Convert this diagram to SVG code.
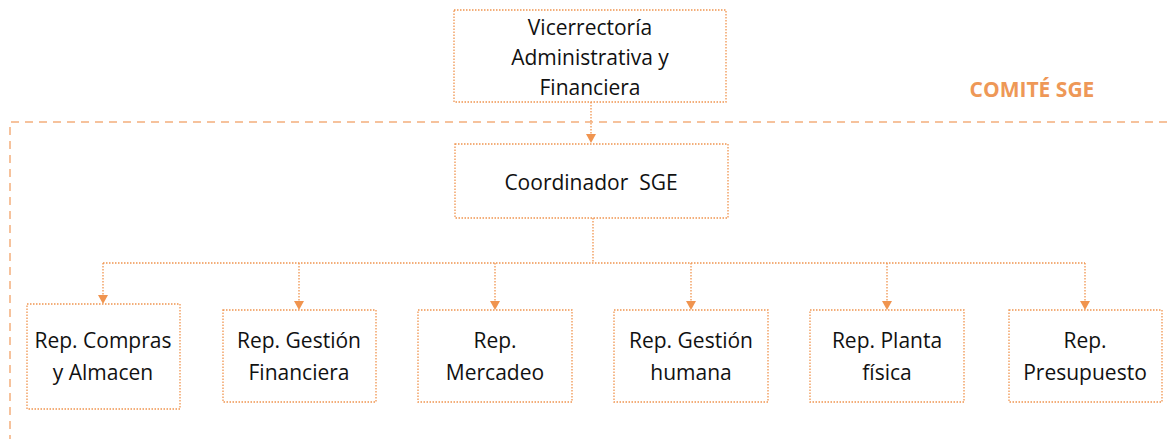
<svg xmlns="http://www.w3.org/2000/svg" width="1167" height="439" viewBox="0 0 1167 439">
<style>
.box{fill:#fff;stroke:#F0944F;stroke-width:1.3;stroke-dasharray:1.5 1.5}
.con{fill:none;stroke:#F0944F;stroke-width:1.3;stroke-dasharray:1.5 1.5}
.t{font-family:"Open Sans","Liberation Sans",sans-serif;font-size:21px;fill:#111;text-anchor:middle;dominant-baseline:central}
.com{font-family:"Open Sans","Liberation Sans",sans-serif;font-size:21px;font-weight:bold;fill:#EE9857;text-anchor:middle;dominant-baseline:central}
</style>
<g id="comite">
<path d="M1167,122 H10 V439" fill="none" stroke="#F4AE7C" stroke-width="1.5" stroke-dasharray="8 6"/>
<text class="com" x="1032" y="89">COMITÉ SGE</text>
</g>
<g id="connectors">
<path class="con" d="M591,102 V136"/>
<path d="M586,134 L596,134 L591,143 Z" fill="#F0944F"/>
<path class="con" d="M593,218 V263 M103,263 H1085"/>
<path class="con" d="M103,263 V296 M299,263 V302 M495,263 V302 M691,263 V302 M887,263 V302 M1085,263 V302"/>
<path d="M98,295 L108,295 L103,304 Z M294,301 L304,301 L299,310 Z M490,301 L500,301 L495,310 Z M686,301 L696,301 L691,310 Z M882,301 L892,301 L887,310 Z M1080,301 L1090,301 L1085,310 Z" fill="#F0944F"/>
</g>
<g id="vicerrectoria">
<rect class="box" x="454" y="10" width="272" height="92"/>
<text class="t" x="590" y="27">Vicerrectoría</text>
<text class="t" x="590" y="57">Administrativa y</text>
<text class="t" x="590" y="87">Financiera</text>
</g>
<g id="coordinador">
<rect class="box" x="455" y="144" width="273" height="74"/>
<text class="t" x="591" y="182" xml:space="preserve">Coordinador  SGE</text>
</g>
<g id="compras">
<rect class="box" x="27" y="304" width="153" height="105"/>
<text class="t" x="103" y="340">Rep. Compras</text>
<text class="t" x="103" y="372">y Almacen</text>
</g>
<g id="gestion-financiera">
<rect class="box" x="223" y="310" width="153" height="92"/>
<text class="t" x="299" y="340">Rep. Gestión</text>
<text class="t" x="299" y="372">Financiera</text>
</g>
<g id="mercadeo">
<rect class="box" x="418" y="310" width="154" height="92"/>
<text class="t" x="495" y="340">Rep.</text>
<text class="t" x="495" y="372">Mercadeo</text>
</g>
<g id="gestion-humana">
<rect class="box" x="614" y="310" width="154" height="92"/>
<text class="t" x="691" y="340">Rep. Gestión</text>
<text class="t" x="691" y="372">humana</text>
</g>
<g id="planta-fisica">
<rect class="box" x="810" y="310" width="154" height="92"/>
<text class="t" x="887" y="340">Rep. Planta</text>
<text class="t" x="887" y="372">física</text>
</g>
<g id="presupuesto">
<rect class="box" x="1009" y="310" width="153" height="92"/>
<text class="t" x="1085" y="340">Rep.</text>
<text class="t" x="1085" y="372">Presupuesto</text>
</g>
</svg>
